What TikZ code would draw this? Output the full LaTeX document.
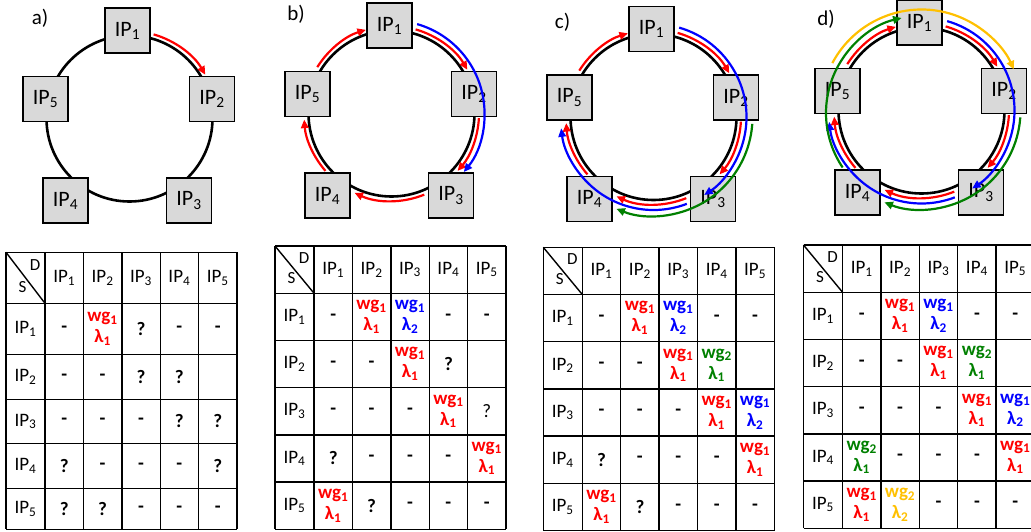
\documentclass[tikz,border=0pt]{standalone}
\usepackage{fontspec}
\setmainfont{Carlito}
\usetikzlibrary{arrows.meta, calc}
\definecolor{boxgray}{RGB}{217,217,217}
\definecolor{lred}{RGB}{255,0,0}
\definecolor{lblue}{RGB}{0,0,255}
\definecolor{lgreen}{RGB}{0,128,0}
\definecolor{lyellow}{RGB}{255,192,0}
\newcommand{\ip}[1]{IP\textsubscript{#1}}

\tikzset{
  ring/.style={line width=2.6pt},
  ipbox/.style={draw, line width=1.9pt, fill=boxgray, minimum size=45pt, inner sep=0pt, font=\fontsize{22}{26}\selectfont},
  panel/.style={inner sep=0pt, font=\fontsize{21}{25}\selectfont},
  lambda/.style={line width=2.2pt, -{Triangle[length=8.5pt, width=7.5pt]}},
  red arc/.style={lambda, lred},
  blue arc/.style={lambda, lblue},
  green arc/.style={lambda, lgreen},
  yellow arc/.style={lambda, lyellow},
  tbl/.style={line width=1.4pt},
  cell/.style={inner sep=0pt, align=center, font=\fontsize{19}{22}\selectfont},
  bold cell/.style={cell, font=\fontsize{19}{21}\selectfont\bfseries},
  corner/.style={inner sep=0pt, font=\fontsize{17}{20}\selectfont},
}

% ring of five IP cores: #1 name, #2 shift
\newcommand{\ipring}[2]{%
  \begin{scope}[shift={(#2)}]
    \coordinate (#1-c) at (129.5,118.5);
    \draw[ring] (#1-c) circle[radius=83];
    \node[ipbox] (#1-1) at (127.5,30.5) {\ip{1}};
    \node[ipbox] (#1-2) at (212,99) {\ip{2}};
    \node[ipbox] (#1-3) at (189,200.5) {\ip{3}};
    \node[ipbox] (#1-4) at (65.5,200.5) {\ip{4}};
    \node[ipbox] (#1-5) at (45.5,99) {\ip{5}};
  \end{scope}}

% wavelength round a ring: #1 centre, #2 style, #3 start, #4 end, #5 radius
\newcommand{\ringarc}[5]{\draw[#2] ([shift={(#3:#5)}]#1) arc[start angle=#3, end angle=#4, radius=#5];}

% table cells
\newcommand{\cellD}[2]{\node[bold cell] (#1) at (#2) {-};}
\newcommand{\cellQ}[2]{\node[bold cell] (#1) at (#2) {?};}
\newcommand{\cellN}[2]{\node[cell] (#1) at (#2) {?};}
\newcommand{\cellE}[2]{}
\newcommand{\cellR}[2]{\node[bold cell, text=lred] (#1) at (#2) {wg\textsubscript{1}\\λ\textsubscript{1}};}
\newcommand{\cellB}[2]{\node[bold cell, text=lblue] (#1) at (#2) {wg\textsubscript{1}\\λ\textsubscript{2}};}
\newcommand{\cellG}[2]{\node[bold cell, text=lgreen] (#1) at (#2) {wg\textsubscript{2}\\λ\textsubscript{1}};}
\newcommand{\cellY}[2]{\node[bold cell, text=lyellow] (#1) at (#2) {wg\textsubscript{2}\\λ\textsubscript{2}};}

% S-D table: #1 name, #2 left edge, #3 row lines, #4 rows (centre/cells)
\newcommand{\iptable}[4]{%
  \foreach \y [count=\k] in {#3} {
    \draw[tbl] (#2,\y) -- ++(231,0);
    \ifnum\k=1 \xdef\tabtop{\y}\fi
    \ifnum\k=2 \xdef\tabhead{\y}\fi
    \xdef\tabbot{\y}
  }
  \draw[tbl] (#2,\tabtop) -- (#2,\tabbot);
  \foreach \k in {0,...,5}
    \draw[tbl] ({#2+39+38.4*\k},\tabtop) -- ({#2+39+38.4*\k},\tabbot);
  % corner cell
  \draw[tbl] (#2,\tabtop) -- ({#2+39},\tabhead);
  \node[corner] (#1-D) at ({#2+29},{\tabtop+0.25*(\tabhead-\tabtop)}) {D};
  \node[corner] (#1-S) at ({#2+16.5},{\tabtop+0.68*(\tabhead-\tabtop)}) {S};
  \foreach \c in {1,...,5}
    \node[cell] (#1-h\c) at ({#2+39+38.4*(\c-0.5)},{(\tabtop+\tabhead)/2}) {\ip{\c}};
  \foreach \yc/\cells [count=\r] in {#4} {
    \node[cell] (#1-s\r) at ({#2+19.5},\yc) {\ip{\r}};
    \foreach \code [count=\c] in \cells {
      \csname cell\code\endcsname{#1-\r-\c}{{#2+39+38.4*(\c-0.5)},\yc}
    }
  }}

\begin{document}
\begin{tikzpicture}[x=1pt, y=-1pt]
    \useasboundingbox (0,0) rectangle (1031,531);

    % rings
    \ipring{a}{0,0}
    \ipring{b}{262,-5}
    \ipring{c}{524,-1.5}
    \ipring{d}{792,-8}
    \node[panel] (la) at (40,18) {a)};
    \node[panel] (lb) at (296,14) {b)};
    \node[panel] (lc) at (562.5,22.5) {c)};
    \node[panel] (ld) at (826,19) {d)};

    % a) first request
    \ringarc{a-c}{red arc}{-74}{-30}{87.5}

    % b) wg1 full, lambda 2 used
    \foreach \s/\e in {-74/-30, 3/41, 68/115, 139/176, 212/253} {
      \ringarc{b-c}{red arc}{\s}{\e}{87.5}
    }
    \ringarc{b-c}{blue arc}{-74}{39}{93}

    % c)
    \foreach \s/\e in {-74/-30, 3/41, 68/115, 139/176, 212/253} {
      \ringarc{c-c}{red arc}{\s}{\e}{87.5}
    }
    \ringarc{c-c}{blue arc}{-74}{57}{93}
    \ringarc{c-c}{blue arc}{69}{173}{93}
    \ringarc{c-c}{green arc}{4}{112}{99}

    % d)
    \foreach \s/\e in {-74/-30, 3/41, 68/115, 139/176, 212/253} {
      \ringarc{d-c}{red arc}{\s}{\e}{87.5}
    }
    \ringarc{d-c}{blue arc}{-74}{57}{93}
    \ringarc{d-c}{blue arc}{69}{173}{93}
    \ringarc{d-c}{green arc}{4}{112}{99}
    \coordinate (d-g) at ([shift={(2,2.5)}]d-c);
    \ringarc{d-g}{green arc}{146}{257}{97.5}
    \ringarc{d-c}{yellow arc}{208}{336}{101}

    % tables
    \iptable{ta}{6}{252.3,303.3,354.3,399.3,443.3,488.3,529.3}
      {328.8/{D,R,Q,D,D}, 376.8/{D,D,Q,Q,E}, 421.3/{D,D,D,Q,Q}, 465.8/{Q,D,D,D,Q}, 508.8/{Q,Q,D,D,D}}
    \iptable{tb}{275}{246,293.2,340.4,387.6,434.8,482,529.2}
      {316.8/{D,R,B,D,D}, 364/{D,D,R,Q,E}, 411.2/{D,D,D,R,N}, 458.4/{Q,D,D,D,R}, 505.6/{R,Q,D,D,D}}
    \iptable{tc}{543.3}{247.3,294.5,341.7,388.9,436.1,483.3,530.5}
      {318.1/{D,R,B,D,D}, 365.3/{D,D,R,G,E}, 412.5/{D,D,D,R,B}, 459.7/{Q,D,D,D,R}, 506.9/{R,Q,D,D,D}}
    \iptable{td}{803.5}{245,292.2,339.4,386.6,433.8,481,528.2}
      {315.8/{D,R,B,D,D}, 363/{D,D,R,G,E}, 410.2/{D,D,D,R,B}, 457.4/{G,D,D,D,R}, 504.6/{R,Y,D,D,D}}
\end{tikzpicture}
\end{document}
